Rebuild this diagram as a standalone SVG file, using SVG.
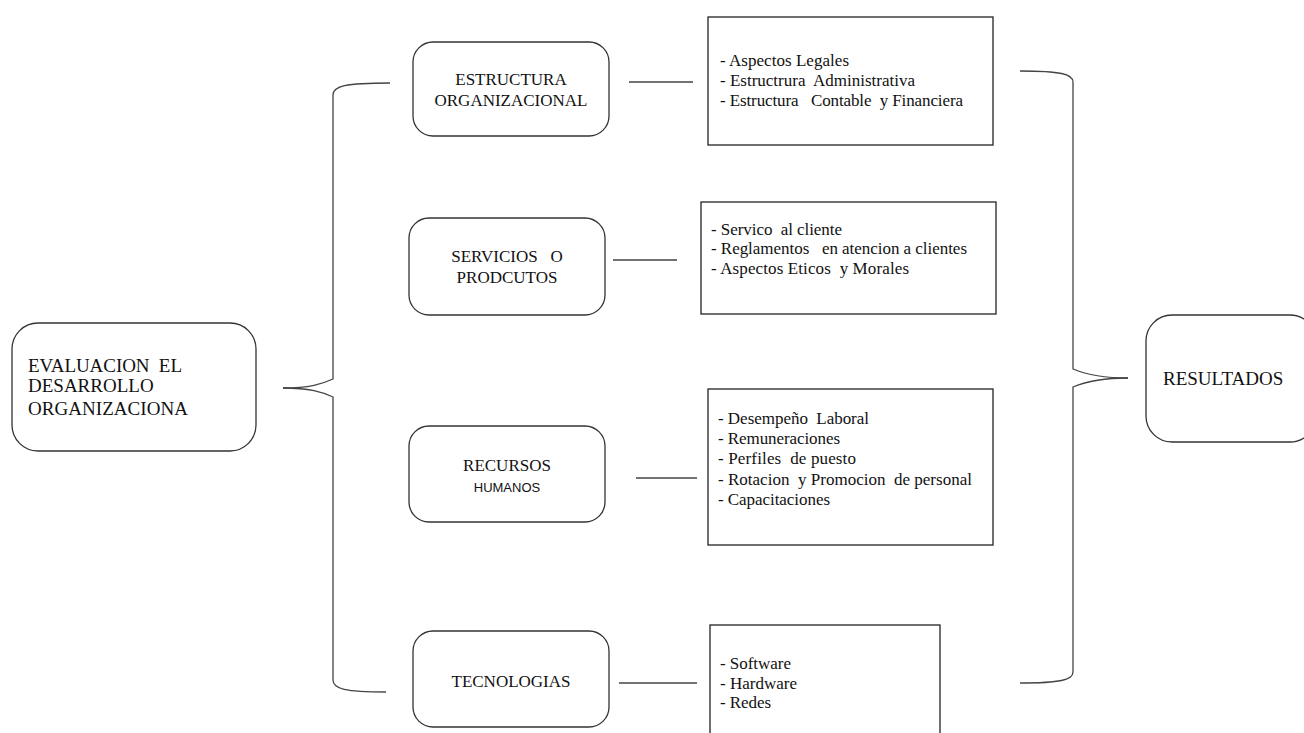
<svg xmlns="http://www.w3.org/2000/svg" width="1304" height="733" viewBox="0 0 1304 733">
<style>
.node{fill:#fff;stroke:#333;stroke-width:1.3}
.box{fill:#fff;stroke:#222;stroke-width:1.3}
.t{font-family:"Liberation Serif","Times New Roman",serif;fill:#111;white-space:pre}
.big{font-size:19px}
.mid{font-size:17px}
.lst{font-size:17px}
.sans{font-family:"Liberation Sans",Arial,sans-serif;font-size:13px;fill:#111}
.c{text-anchor:middle}
.conn{fill:none;stroke:#444;stroke-width:1.3}
</style>
<rect width="1304" height="733" fill="#fff"/>
<g id="connectors">
<path class="conn" d="M283,388 C310,388 322,384 333,379 L333,95 C333,86 345,83 390,83"/>
<path class="conn" d="M283,388 C310,388 322,392 333,397 L333,680 C333,689 345,692 386,692"/>
<path class="conn" d="M1020,71 C1060,71 1073,74 1073,82 L1073,369 C1085,374 1100,378 1128,378"/>
<path class="conn" d="M1128,378 C1100,378 1085,382 1073,387 L1073,672 C1073,680 1060,683 1020,683"/>
<line class="conn" x1="629" y1="82" x2="693" y2="82"/>
<line class="conn" x1="613" y1="260" x2="677" y2="260"/>
<line class="conn" x1="636" y1="478" x2="697" y2="478"/>
<line class="conn" x1="619" y1="683" x2="697" y2="683"/>
</g>
<g id="evaluacion">
<rect class="node" x="12" y="323" width="244" height="128" rx="26"/>
<text class="t big" x="28" y="372" textLength="154">EVALUACION  EL</text>
<text class="t big" x="28" y="392">DESARROLLO</text>
<text class="t big" x="28" y="415" textLength="160">ORGANIZACIONA</text>
</g>
<g id="estructura">
<rect class="node" x="413" y="42" width="196" height="94" rx="20"/>
<text class="t mid c" x="511" y="85">ESTRUCTURA</text>
<text class="t mid c" x="511" y="106">ORGANIZACIONAL</text>
</g>
<g id="servicios">
<rect class="node" x="409" y="218" width="196" height="97" rx="20"/>
<text class="t mid c" x="507" y="262">SERVICIOS   O</text>
<text class="t mid c" x="507" y="283">PRODCUTOS</text>
</g>
<g id="recursos">
<rect class="node" x="409" y="426" width="196" height="96" rx="20"/>
<text class="t mid c" x="507" y="471">RECURSOS</text>
<text class="sans c" x="507" y="492">HUMANOS</text>
</g>
<g id="tecnologias">
<rect class="node" x="413" y="631" width="196" height="96" rx="20"/>
<text class="t mid c" x="511" y="687">TECNOLOGIAS</text>
</g>
<g id="resultados">
<rect class="node" x="1146" y="315" width="170" height="127" rx="26"/>
<text class="t big" x="1163" y="385">RESULTADOS</text>
</g>
<g id="lista-estructura">
<rect class="box" x="708" y="17" width="285" height="128"/>
<text class="t lst" x="720" y="66" textLength="129">- Aspectos Legales</text>
<text class="t lst" x="720" y="86" textLength="195">- Estructrura  Administrativa</text>
<text class="t lst" x="720" y="106" textLength="243">- Estructura   Contable  y Financiera</text>
</g>
<g id="lista-servicios">
<rect class="box" x="701" y="202" width="295" height="112"/>
<text class="t lst" x="711" y="235" textLength="131">- Servico  al cliente</text>
<text class="t lst" x="711" y="254" textLength="256">- Reglamentos   en atencion a clientes</text>
<text class="t lst" x="711" y="274" textLength="198">- Aspectos Eticos  y Morales</text>
</g>
<g id="lista-recursos">
<rect class="box" x="708" y="389" width="285" height="156"/>
<text class="t lst" x="718" y="424" textLength="151">- Desempeño  Laboral</text>
<text class="t lst" x="718" y="444" textLength="122">- Remuneraciones</text>
<text class="t lst" x="718" y="464" textLength="138">- Perfiles  de puesto</text>
<text class="t lst" x="718" y="485" textLength="254">- Rotacion  y Promocion  de personal</text>
<text class="t lst" x="718" y="505" textLength="112">- Capacitaciones</text>
</g>
<g id="lista-tecnologias">
<rect class="box" x="710" y="625" width="230" height="120"/>
<text class="t lst" x="720" y="669" textLength="71">- Software</text>
<text class="t lst" x="720" y="689" textLength="77">- Hardware</text>
<text class="t lst" x="720" y="708" textLength="51">- Redes</text>
</g>
</svg>
